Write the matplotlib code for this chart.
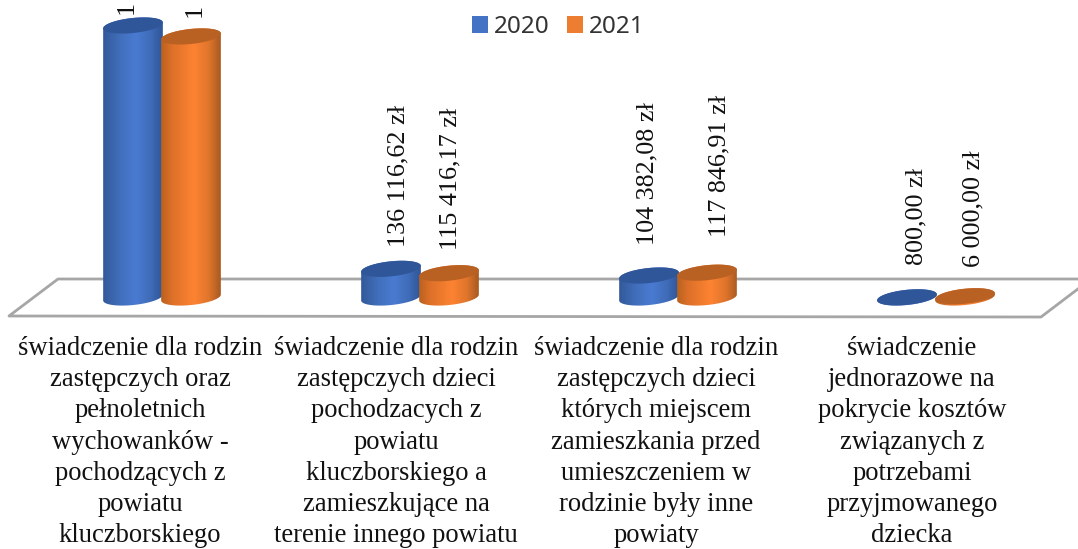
import numpy as np
import matplotlib
matplotlib.use('Agg')
import matplotlib.pyplot as plt
from matplotlib.colors import LinearSegmentedColormap
from matplotlib.patches import Patch, Polygon

W, H = 1078, 549

# data
categories = [
    'świadczenie dla rodzin\nzastępczych oraz\npełnoletnich\nwychowanków -\npochodzących z\npowiatu\nkluczborskiego',
    'świadczenie dla rodzin\nzastępczych dzieci\npochodzacych z\npowiatu\nkluczborskiego a\nzamieszkujące na\nterenie innego powiatu',
    'świadczenie dla rodzin\nzastępczych dzieci\nktórych miejscem\nzamieszkania przed\numieszczeniem w\nrodzinie były inne\npowiaty',
    'świadczenie\njednorazowe na\npokrycie kosztów\nzwiązanych z\npotrzebami\nprzyjmowanego\ndziecka',
]
values_2020 = [1292000, 136116.62, 104382.08, 800]
values_2021 = [1240000, 115416.17, 117846.91, 6000]
labels_2020 = ['1', '136 116,62 zł', '104 382,08 zł', '800,00 zł']
labels_2021 = ['1', '115 416,17 zł', '117 846,91 zł', '6 000,00 zł']

# label nudges in pixels (dx, dy from the top of the bar)
nudge_2020 = [(-6, 11), (7, 22), (-2, 31), (9, 32)]
nudge_2021 = [(4, 19), (1, 23), (12, 36), (8, 29)]
cat_label_x = [140, 396, 656, 912]

# layout: pixels -> data
units_per_px = 4750
group_px = 258
first_center = 162
base_y = 297.5
RX, RY, TILT = 30, 7.5, np.radians(6)

fig = plt.figure(figsize=(W / 100, H / 100), dpi=100)
ax = fig.add_axes([0, 0, 1, 1])
ax.axis('off')

cmap_blue = LinearSegmentedColormap.from_list('b', [(0, '#33599a'), (0.3, '#4270bd'), (0.55, '#4a7bd2'), (0.8, '#3f6cb8'), (1, '#2f5597')])
cmap_orange = LinearSegmentedColormap.from_list('o', [(0, '#b9621f'), (0.18, '#dd7029'), (0.55, '#fd8332'), (0.8, '#e0752c'), (1, '#a85a22')])
top_blue, top_orange = '#30569a', '#b96123'


def ell(xc, yc, t):
    # tilted ellipse, size in pixels, centre in data units
    dx = RX * np.cos(t) * np.cos(TILT) - RY * np.sin(t) * np.sin(TILT)
    dy = RX * np.cos(t) * np.sin(TILT) + RY * np.sin(t) * np.cos(TILT)
    return np.column_stack([xc + dx / group_px, yc + dy * units_per_px])


def cylinder(xc, val, cmap, top):
    low = ell(xc, 0, np.linspace(np.pi, 2 * np.pi, 60))
    up = ell(xc, val, np.linspace(0, np.pi, 60))
    body = Polygon(np.vstack([low, up]), closed=True, transform=ax.transData, fc='none', ec='none')
    ax.add_patch(body)
    grad = np.linspace(0, 1, 120).reshape(1, -1)
    hw = RX / group_px
    im = ax.imshow(grad, cmap=cmap, aspect='auto', zorder=3,
                   extent=[xc - hw, xc + hw, -20 * units_per_px, val + 20 * units_per_px])
    im.set_clip_path(body)
    ax.fill(*ell(xc, val, np.linspace(0, 2 * np.pi, 120)).T, color=top, lw=0, zorder=3)


def px(x, y):
    return x / W, 1 - y / H


# floor
floor = [px(1095, 279), px(58, 279), px(9, 316), px(1041, 317), px(1095, 276)]
ax.plot(*zip(*floor), transform=ax.transAxes, color='#a6a6a6', lw=2, zorder=1)

off = 29 / group_px
for i in range(4):
    cylinder(i - off, values_2020[i], cmap_blue, top_blue)
    cylinder(i + off, values_2021[i], cmap_orange, top_orange)
    for xc, v, lab, nd in [(i - off, values_2020[i], labels_2020[i], nudge_2020[i]),
                           (i + off, values_2021[i], labels_2021[i], nudge_2021[i])]:
        ax.annotate(lab, (xc, v), xytext=nd, textcoords='offset pixels', rotation=90,
                    ha='center', va='bottom', family='Liberation Serif', fontsize=18.8,
                    color='#111111', zorder=4)
    ax.text(*px(cat_label_x[i], 336), categories[i], transform=ax.transAxes, ha='center', va='top',
            family='Liberation Serif', fontsize=19.2, linespacing=1.325, color='#111111')

ax.set_xlim(-first_center / group_px, (W - first_center) / group_px)
ax.set_ylim(-(H - base_y) * units_per_px, base_y * units_per_px)

handles = [Patch(fc='#4472c4', label='2020'), Patch(fc='#ed7d31', label='2021')]
ax.legend(handles=handles, ncol=2, frameon=False, loc='center', bbox_to_anchor=px(558, 27),
          bbox_transform=ax.transAxes, prop={'family': 'Noto Sans', 'size': 17.5}, handlelength=0.66,
          handleheight=0.66, handletextpad=0.25, columnspacing=0.7, labelcolor='#333333')

fig.savefig('out.png', dpi=100)
